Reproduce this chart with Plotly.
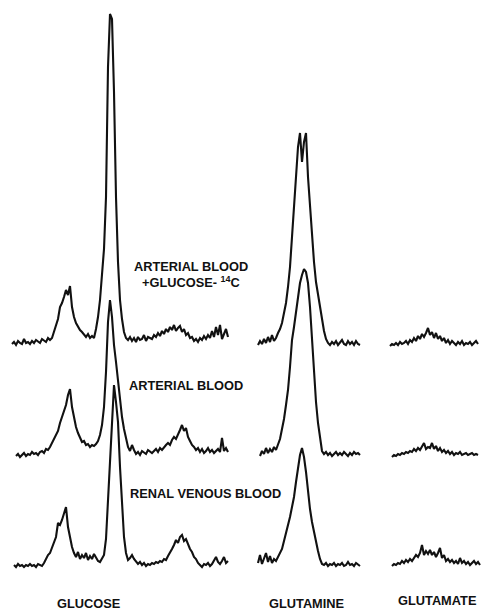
import numpy as np
import plotly.graph_objects as go

# ---- data: channel positions and counts above baseline ----
glucose_top_x = np.arange(12, 229, 2)
glucose_top = [3,5,2,6,4,3,8,4,5,3,
               6,4,7,5,4,8,6,5,9,7,
               9,15,20,28,40,44,50,57,52,61,
               40,30,24,20,17,15,12,10,13,9,
               11,9,18,30,47,70,98,150,280,333,
               328,255,150,85,47,28,15,9,7,10,
               6,9,5,10,7,8,12,6,10,9,
               8,12,10,14,11,16,13,18,15,20,
               17,22,16,19,21,15,18,12,14,9,
               10,6,8,5,9,7,11,8,12,9,
               16,10,20,12,22,8,14,18,10]

glucose_mid_x = np.arange(16, 229, 2)
glucose_mid = [1,3,0,2,4,1,3,2,5,3,
               4,2,5,6,4,8,7,10,14,18,
               22,26,34,40,48,52,62,68,50,38,
               30,24,20,15,16,12,13,10,12,11,
               13,16,22,32,50,85,135,157,140,112,
               95,75,55,40,28,17,10,6,12,7,
               3,5,2,6,4,3,7,5,4,6,
               8,5,9,7,10,12,14,12,17,20,
               18,22,27,32,26,29,20,16,12,10,
               7,9,5,8,4,6,9,5,7,4,
               6,8,5,19,6,9,5]

glucose_bot_x = np.arange(14, 229, 2)
glucose_bot = [2,0,3,1,2,0,2,1,3,1,
               2,0,3,2,1,4,8,12,14,20,
               24,30,44,42,47,55,60,40,28,20,
               14,10,15,8,12,9,14,7,11,8,
               13,9,6,5,8,12,28,64,105,147,
               182,165,145,100,64,30,14,7,9,12,
               8,6,3,5,2,4,1,3,2,4,
               3,5,4,6,5,8,7,11,14,18,
               22,27,24,30,32,26,28,22,18,15,
               10,8,4,2,0,3,2,4,1,3,
               6,10,5,3,6,10,4,6]

glutamine_top_x = np.arange(258, 361, 2)
glutamine_top = [2,6,3,8,4,10,5,12,6,9,
                 14,18,24,34,44,60,80,110,140,170,
                 200,214,185,205,214,170,140,107,85,65,
                 52,40,27,16,8,4,2,5,3,6,
                 2,4,7,3,2,6,3,5,2,6,
                 3,2]

glutamine_mid_x = np.arange(260, 361, 2)
glutamine_mid = [1,6,3,9,4,8,5,10,7,12,
                 18,28,38,52,67,90,117,130,145,162,
                 174,182,188,185,174,150,117,85,55,34,
                 18,6,3,5,2,4,1,3,5,2,
                 4,2,5,3,1,4,2,5,3,4,
                 2]

glutamine_bot_x = np.arange(258, 361, 2)
glutamine_bot = [4,12,3,9,14,5,11,4,8,6,
                 10,14,18,26,34,40,50,60,70,85,
                 100,112,119,110,95,74,58,45,34,24,
                 16,8,3,2,4,1,3,2,4,1,
                 3,2,4,1,2,5,2,3,1,4,
                 2,1]

glutamate_top_x = np.arange(390, 479, 2)
glutamate_top = [1,3,2,4,2,5,3,4,6,3,
                 7,5,9,6,11,8,13,10,14,19,
                 12,15,9,14,8,11,6,9,4,7,
                 3,6,4,2,5,3,6,2,4,3,
                 5,2,4,6,3]

glutamate_mid_x = np.arange(392, 479, 2)
glutamate_mid = [0,2,1,3,2,4,3,5,4,6,
                 5,8,6,9,7,11,14,8,10,9,
                 14,8,11,6,9,5,7,4,6,3,
                 5,2,4,3,5,2,3,4,2,3,
                 4,2,3,2]

glutamate_bot_x = np.arange(392, 481, 2)
glutamate_bot = [1,3,2,4,3,6,4,7,5,8,
                 6,9,12,10,14,22,12,16,13,17,
                 12,15,10,14,19,9,12,6,8,5,
                 7,4,6,3,9,4,6,3,5,2,
                 4,6,3,5,2]

compounds = ["GLUCOSE", "GLUTAMINE", "GLUTAMATE"]
sample_labels = ["ARTERIAL BLOOD", "+GLUCOSE- <sup>14</sup>C", "ARTERIAL BLOOD", "RENAL VENOUS BLOOD"]

# ---- layout constants ----
W, H = 481, 610
row_offsets = [263, 153, 43]          # baseline of each sample row (axis units)

rows = [
    [(glucose_top_x, glucose_top), (glutamine_top_x, glutamine_top), (glutamate_top_x, glutamate_top)],
    [(glucose_mid_x, glucose_mid), (glutamine_mid_x, glutamine_mid), (glutamate_mid_x, glutamate_mid)],
    [(glucose_bot_x, glucose_bot), (glutamine_bot_x, glutamine_bot), (glutamate_bot_x, glutamate_bot)],
]

fig = go.Figure()
for off, row in zip(row_offsets, rows):
    for xs, ys in row:
        fig.add_trace(go.Scatter(
            x=xs, y=np.array(ys) + off, mode="lines",
            line=dict(color="#111111", width=2.1),
            hoverinfo="skip", showlegend=False))

font = dict(family="Liberation Sans, Arial, sans-serif", size=12.8, color="#111111", weight="bold")
ann = [
    dict(x=191, y=344, text=sample_labels[0]),
    dict(x=191, y=328, text=sample_labels[1]),
    dict(x=186, y=225, text=sample_labels[2]),
    dict(x=205, y=117, text=sample_labels[3]),
    dict(x=89, y=7, text=compounds[0]),
    dict(x=307, y=7, text=compounds[1]),
    dict(x=437, y=10, text=compounds[2]),
]
for a in ann:
    fig.add_annotation(x=a["x"], y=a["y"], text=a["text"], xref="x", yref="y",
                       showarrow=False, font=font, xanchor="center", yanchor="middle")

fig.update_layout(
    width=W, height=H, margin=dict(l=0, r=0, t=0, b=0),
    paper_bgcolor="white", plot_bgcolor="white",
    xaxis=dict(range=[0, W], visible=False, fixedrange=True),
    yaxis=dict(range=[0, H], visible=False, fixedrange=True),
)
fig.write_html("out.html")
